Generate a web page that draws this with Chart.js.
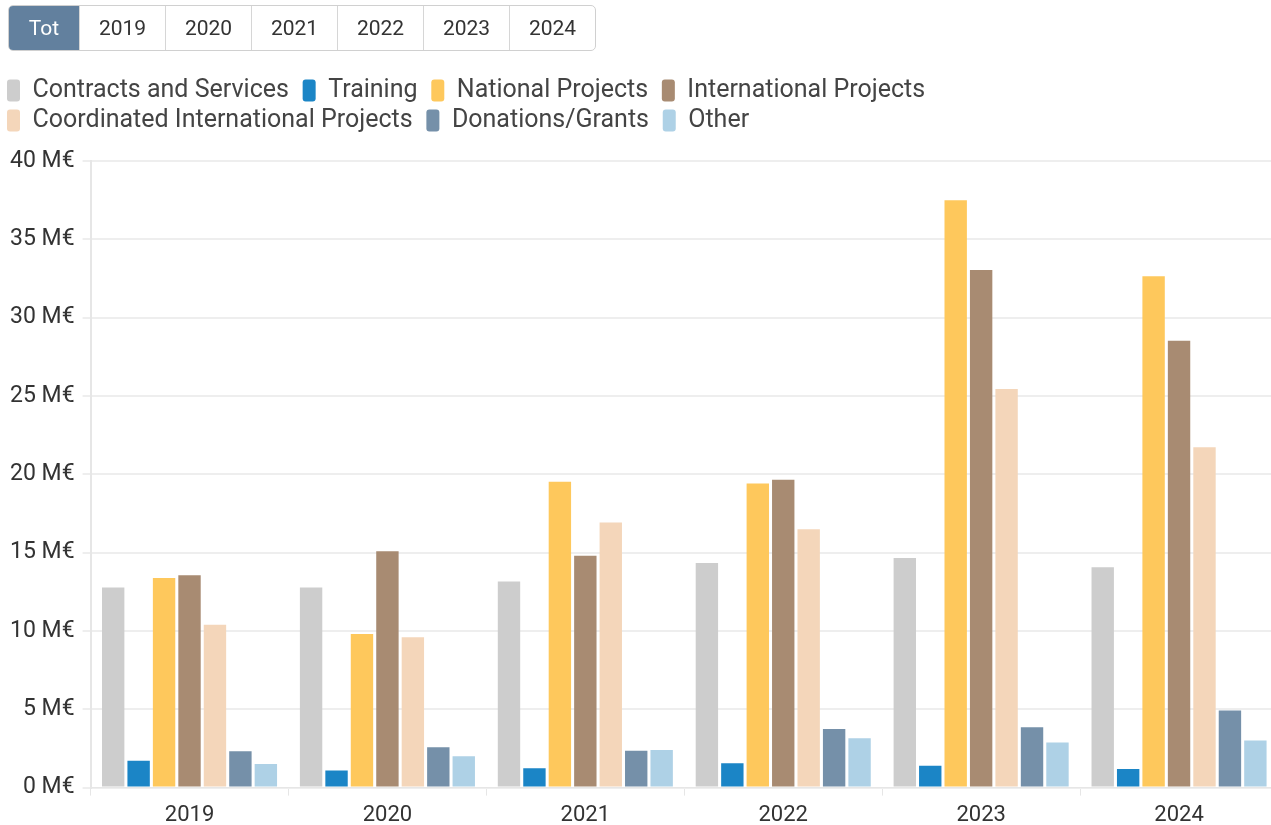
<!DOCTYPE html>
<html><head><meta charset="utf-8">
<script src="https://cdn.jsdelivr.net/npm/chart.js@4/dist/chart.umd.min.js"></script>
<style>
html,body{margin:0;padding:0;background:#fff;overflow:hidden;width:1271px;height:825px;}
#btns{position:absolute;left:8px;top:5px;display:flex;border:1px solid #d0d0d0;border-radius:5px;overflow:hidden;z-index:2;background:#fff;}
#btns div{font-family:Roboto,sans-serif;font-size:21px;color:#333;height:44px;line-height:44px;text-align:center;width:85px;border-left:1px solid #d6d6d6;}
#btns div.active{background:#62809e;color:#fff;width:70px;border-left:none;}
#wrap{position:absolute;left:0;top:0;width:1290px;height:836px;}
</style></head><body>
<div id="btns"></div>
<div id="wrap"><canvas id="c"></canvas></div>
<script>
const buttons = ['Tot','2019','2020','2021','2022','2023','2024'];
const categories = ['2019','2020','2021','2022','2023','2024'];
const contractsServices = [12.78, 12.78, 13.16, 14.33, 14.66, 14.06];
const training = [1.72, 1.09, 1.23, 1.56, 1.39, 1.18];
const nationalProjects = [13.38, 9.8, 19.52, 19.41, 37.5, 32.64];
const internationalProjects = [13.55, 15.08, 14.8, 19.65, 33.04, 28.53];
const coordinatedIntlProjects = [10.4, 9.59, 16.93, 16.5, 25.45, 21.73];
const donationsGrants = [2.32, 2.57, 2.36, 3.74, 3.85, 4.92];
const other = [1.51, 2.0, 2.4, 3.15, 2.88, 3.01];
const yTicks = [0,5,10,15,20,25,30,35,40];

const bd = document.getElementById('btns');
buttons.forEach((b,i)=>{const d=document.createElement('div');d.textContent=b;if(i===0)d.className='active';bd.appendChild(d);});

const series = [
  ['Contracts and Services', contractsServices, '#cdcdcd'],
  ['Training', training, '#1b85c6'],
  ['National Projects', nationalProjects, '#fec85c'],
  ['International Projects', internationalProjects, '#a88b72'],
  ['Coordinated International Projects', coordinatedIntlProjects, '#f4d6ba'],
  ['Donations/Grants', donationsGrants, '#7590a9'],
  ['Other', other, '#aed1e6']
];
const legendMargin = {
  id:'legendMargin',
  beforeInit(chart){
    const lg = chart.legend;
    const fit = lg.fit;
    lg.fit = function(){ fit.call(this); this.height += 18; };
  }
};
new Chart(document.getElementById('c'), {
  type:'bar',
  data:{labels:categories, datasets: series.map(s=>({label:s[0], data:s[1], backgroundColor:s[2], borderWidth:0, categoryPercentage:0.9, barPercentage:0.88}))},
  plugins:[legendMargin],
  options:{
    responsive:true, maintainAspectRatio:false, animation:false,
    layout:{padding:{top:73,right:12,left:2,bottom:0}},
    plugins:{
      tooltip:{enabled:false},
      legend:{position:'top', align:'start',
        labels:{font:{family:'Roboto',size:25}, color:'#444', boxWidth:13, boxHeight:22, padding:5, useBorderRadius:true, borderRadius:3,
          generateLabels(chart){
            const items = Chart.defaults.plugins.legend.labels.generateLabels(chart);
            items.forEach(it=>{it.text = it.text + ' \u200A';});
            return items;
          }}}
    },
    scales:{
      x:{grid:{display:true, drawOnChartArea:false, drawTicks:true, tickLength:8, color:'#e6e6e6'}, border:{color:'#e6e6e6'},
         ticks:{font:{family:'Roboto',size:22}, color:'#333', padding:7}},
      y:{min:0, max:40, afterBuildTicks:(ax)=>{ax.ticks=yTicks.map(v=>({value:v}));},
         grid:{color:'#eeeeee', lineWidth:2, tickLength:8}, border:{color:'#e6e6e6', width:2},
         ticks:{font:{family:'Roboto',size:23}, color:'#333', padding:8, callback:v=>v+' M€'}}
    }
  }
});
</script>
</body></html>
